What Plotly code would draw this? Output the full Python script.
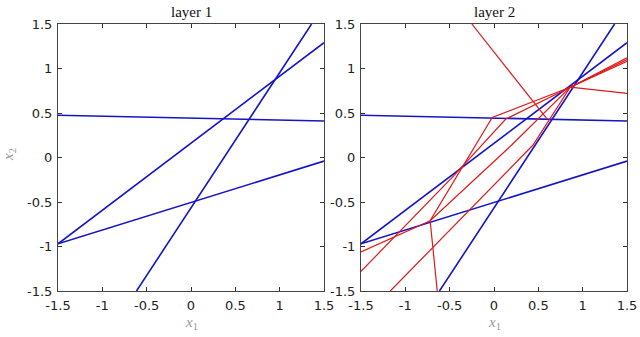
import plotly.graph_objects as go

# layer 1 boundaries (straight lines), endpoints
blue_x = [[-1.5, 1.5], [-1.5, 1.5], [-1.5, 1.5], [-0.615, 1.36]]
blue_y = [[0.475, 0.41], [-0.97, 1.29], [-0.97, -0.04], [-1.5, 1.5]]

# layer 2 boundaries (bent lines)
red_x = [
    [-0.25, 0.6],
    [-0.64, -0.72, -0.02, 0.86, 1.5],
    [-1.5, -0.72, 0.2, 0.86, 1.5],
    [-1.5, -0.45, 0.13, 0.86, 1.5],
    [-1.17, 0.44, 0.86, 1.5],
]
red_y = [
    [1.5, 0.43],
    [-1.5, -0.71, 0.45, 0.79, 1.08],
    [-1.06, -0.71, 0.14, 0.79, 0.72],
    [-1.28, -0.2, 0.43, 0.79, 1.12],
    [-1.5, 0.14, 0.79, 1.1],
]

ticks = [-1.5, -1, -0.5, 0, 0.5, 1, 1.5]
tick_text = ['-1.5', '-1', '-0.5', '0', '0.5', '1', '1.5']
titles = ['layer 1', 'layer 2']

BLUE = '#1414c8'
RED = '#e01818'

fig = go.Figure()
for ax in ['1', '2']:
    xa = 'x' if ax == '1' else 'x2'
    ya = 'y' if ax == '1' else 'y2'
    for xs, ys in zip(blue_x, blue_y):
        fig.add_trace(go.Scatter(x=xs, y=ys, mode='lines', xaxis=xa, yaxis=ya,
                                 line=dict(color=BLUE, width=1.6), showlegend=False,
                                 hoverinfo='skip'))
for xs, ys in zip(red_x, red_y):
    fig.add_trace(go.Scatter(x=xs, y=ys, mode='lines', xaxis='x2', yaxis='y2',
                             line=dict(color=RED, width=1.2), showlegend=False,
                             hoverinfo='skip'))

axis_style = dict(range=[-1.5, 1.5], tickvals=ticks, ticktext=tick_text,
                  ticks='inside', ticklen=4, tickcolor='#333', tickwidth=1,
                  showline=True, linecolor='#444', linewidth=1, mirror='ticks',
                  showgrid=False, zeroline=False, automargin=False,
                  ticklabelstandoff=2,
                  tickfont=dict(family='DejaVu Sans', size=13, color='#222'))

fig.update_layout(
    width=640, height=337,
    margin=dict(l=0, r=0, t=0, b=0, autoexpand=False),
    paper_bgcolor='white', plot_bgcolor='white',
    xaxis=dict(domain=[58 / 640, 324 / 640], anchor='y', **axis_style),
    yaxis=dict(domain=[46 / 337, 313 / 337], anchor='x', **axis_style),
    xaxis2=dict(domain=[361 / 640, 627 / 640], anchor='y2', **axis_style),
    yaxis2=dict(domain=[46 / 337, 313 / 337], anchor='x2', **axis_style),
)

serif = 'Liberation Serif'
for i, t in enumerate(titles):
    cx = (58 + 324) / 2 / 640 if i == 0 else (361 + 627) / 2 / 640
    fig.add_annotation(text=t, x=cx, y=1 - 12 / 337, xref='paper', yref='paper',
                       xanchor='center', yanchor='middle', showarrow=False,
                       font=dict(family=serif, size=15, color='#111'))
    fig.add_annotation(text='<i>x</i><sub>1</sub>', x=cx, y=1 - 323 / 337,
                       xref='paper', yref='paper', xanchor='center', yanchor='middle',
                       showarrow=False, font=dict(family=serif, size=15, color='#999'))
fig.add_annotation(text='<i>x</i><sub>2</sub>', x=9 / 640, y=1 - 155 / 337,
                   xref='paper', yref='paper', xanchor='center', yanchor='middle',
                   showarrow=False, textangle=-90,
                   font=dict(family=serif, size=15, color='#999'))

# page body has a default 8px margin; drop it so the figure sits at the corner
fig.write_html("out.html", config={'displayModeBar': False},
               post_script="document.body.style.margin='0px';")
